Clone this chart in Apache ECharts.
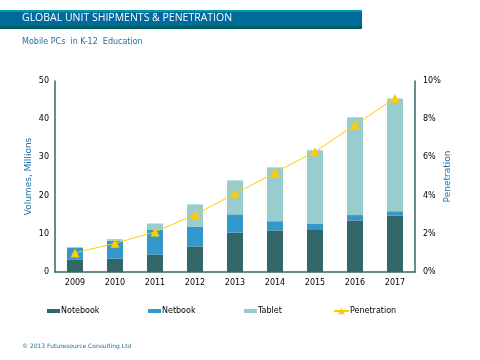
<!DOCTYPE html>
<html><head><meta charset="utf-8">
<script src="https://cdn.jsdelivr.net/npm/echarts@6/dist/echarts.min.js"></script>
<style>html,body{margin:0;padding:0;background:#fff}#c{width:480px;height:360px}</style>
</head><body><div id="c"></div>
<script>
var years = ['2009','2010','2011','2012','2013','2014','2015','2016','2017'];
var notebook = [3.3,3.5,4.6,6.7,10.3,10.9,11.2,13.5,14.8];
var netbook = [3.1,4.7,6.5,5.2,4.8,2.4,1.5,1.4,1.1];
var tablet = [0,0.4,1.6,5.8,8.9,14.1,19.2,25.6,29.5];
var penetration = [1.0,1.5,2.1,3.0,4.1,5.2,6.3,7.7,9.1];

var F = 'DejaVu Sans';
var chart = echarts.init(document.getElementById('c'));
function leg(name, left, icon){
  return {data:[{name:name, icon:icon}], left:left, top:307, padding:0, itemWidth:13, itemHeight:4, itemGap:0,
    textStyle:{fontFamily:F,fontSize:8,color:'#000',padding:[0,0,0,-4]}, selectedMode:false};
}
chart.setOption({
  animation:false,
  graphic:[
    {type:'rect',shape:{x:0,y:10,width:362,height:19},style:{fill:'#006a9a'}},
    {type:'rect',shape:{x:0,y:10,width:362,height:2},style:{fill:'#0099aa'}},
    {type:'rect',shape:{x:0,y:26,width:362,height:3},style:{fill:'#00605f'}},
    {type:'text',left:22,top:13,style:{text:'GLOBAL UNIT SHIPMENTS & PENETRATION',fill:'#fff',font:'10.5px "Open Sans"'}},
    {type:'text',left:22,top:38,style:{text:'Mobile PCs  in K-12  Education',fill:'#1f6f9f',font:'8px "DejaVu Sans"'}},
    {type:'text',left:22,top:343,style:{text:'© 2013 Futuresource Consulting Ltd',fill:'#1f6f9f',font:'6px "DejaVu Sans"'}}
  ],
  grid:{left:55,right:65,top:81,bottom:88},
  legend:[leg('Notebook',47,'rect'),leg('Netbook',148,'rect'),leg('Tablet',244,'rect'),
    {data:[{name:'Penetration'}],left:333,top:307,padding:0,itemWidth:15,itemHeight:8,selectedMode:false,
     textStyle:{fontFamily:F,fontSize:8,color:'#000',padding:[0,0,0,-4]}}],
  xAxis:{type:'category',data:years,axisLine:{lineStyle:{color:'#336666',width:1.5}},axisTick:{show:false},
    axisLabel:{fontFamily:F,fontSize:8,color:'#000',margin:7}},
  yAxis:[
    {type:'value',min:0,max:50,interval:10,name:'Volumes, Millions',nameLocation:'middle',nameGap:22,nameMoveOverlap:false,
     nameTextStyle:{color:'#1f6fa3',fontFamily:F,fontSize:9},
     axisLine:{show:true,lineStyle:{color:'#336666',width:1.5}},axisTick:{show:false},splitLine:{show:false},
     axisLabel:{fontFamily:F,fontSize:8,color:'#000',margin:6}},
    {type:'value',min:0,max:10,interval:2,name:'Penetration',nameLocation:'middle',nameGap:28,nameRotate:90,nameMoveOverlap:false,
     nameTextStyle:{color:'#1f6fa3',fontFamily:F,fontSize:9},
     axisLine:{show:true,lineStyle:{color:'#336666',width:1.5}},axisTick:{show:false},splitLine:{show:false},
     axisLabel:{fontFamily:F,fontSize:8,color:'#000',margin:8,formatter:'{value}%'}}
  ],
  series:[
    {name:'Notebook',type:'bar',stack:'v',data:notebook,barWidth:16,itemStyle:{color:'#336666'}},
    {name:'Netbook',type:'bar',stack:'v',data:netbook,itemStyle:{color:'#3399cc'}},
    {name:'Tablet',type:'bar',stack:'v',data:tablet,itemStyle:{color:'#99cccc'}},
    {name:'Penetration',type:'line',yAxisIndex:1,data:penetration,symbol:'triangle',symbolSize:9,
     lineStyle:{color:'#ffcc00',width:1},itemStyle:{color:'#ffcc00'}}
  ]
});
</script></body></html>
